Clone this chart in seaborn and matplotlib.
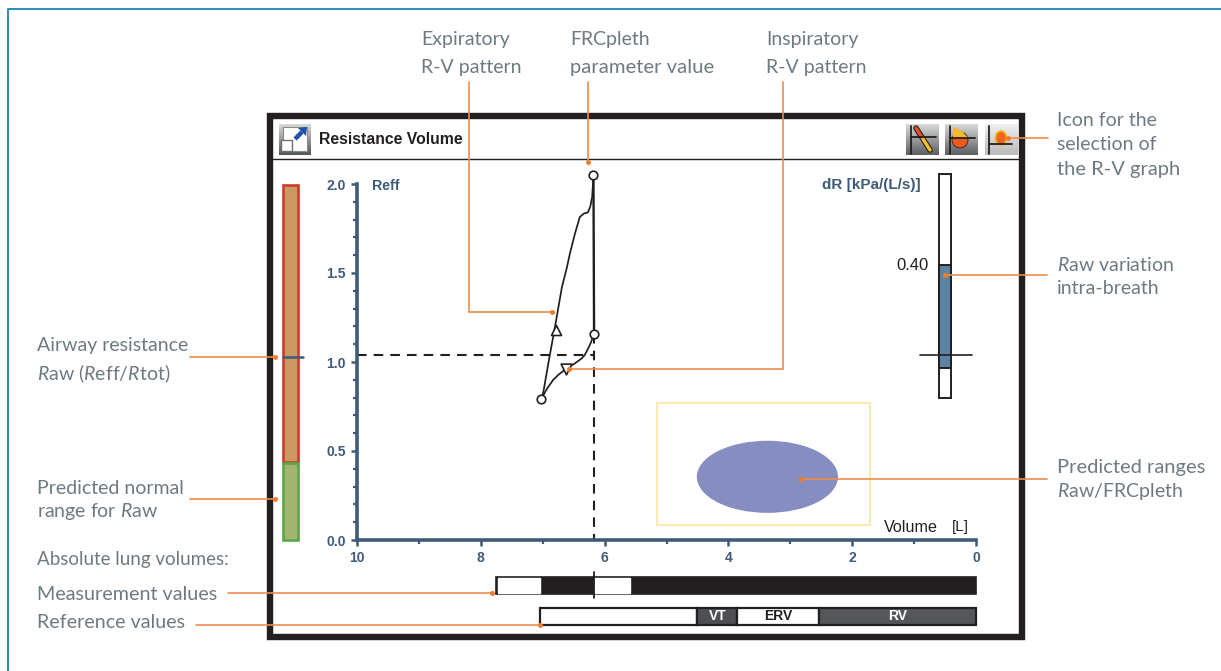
import numpy as np
import pandas as pd
import matplotlib
matplotlib.use('Agg')
import matplotlib.pyplot as plt
import seaborn as sns
from matplotlib.patches import Rectangle, Ellipse, Polygon

# Values (volume in L, Reff in kPa/(L/s))
exp_volume = [7.03, 6.99, 6.90, 6.80, 6.69, 6.61, 6.56, 6.48, 6.40, 6.33, 6.27, 6.23, 6.20, 6.18]
exp_reff = [0.79, 0.83, 1.01, 1.20, 1.42, 1.53, 1.61, 1.72, 1.815, 1.835, 1.84, 1.875, 1.93, 2.05]
ins_volume = [7.03, 6.93, 6.83, 6.74, 6.61, 6.49, 6.37, 6.32, 6.26, 6.22, 6.17]
ins_reff = [0.79, 0.85, 0.90, 0.93, 0.965, 0.99, 1.02, 1.04, 1.08, 1.11, 1.16]
loop_volume = [6.18, 6.17]
loop_reff = [2.05, 1.16]
frc_volume = 6.17
frc_reff = 1.04
start_marker = ([7.03, 6.18, 6.17], [0.79, 2.05, 1.16])
tri_up = ([6.79], [1.18])
tri_down = ([6.62], [0.96])

range_box = [5.15, 1.71, 0.085, 0.77]
range_ellipse = [3.37, 0.355, 2.28, 0.405]

raw_normal = [0.0, 0.43]
raw_high = [0.44, 1.995]
raw_measured = 1.03

dr_scale = [-0.19, 0.80]
dr_fill = [-0.057, 0.40]
dr_label = '0.40'

meas_bar = [7.75, 0.0]
meas_gaps = [(7.72, 7.04), (6.17, 5.59)]
ref_edges = [7.04, 4.50, 3.86, 2.54, 0.0]
ref_names = ['', 'VT', 'ERV', 'RV']
ref_colors = ['white', '#4d4f53', 'white', '#54565a']
ref_text = ['', 'white', '#231f20', 'white']

x_major = [10, 8, 6, 4, 2, 0]
x_minor = [9, 7, 5, 3, 1]
y_major = [0.0, 0.5, 1.0, 1.5, 2.0]
y_minor = [0.1, 0.2, 0.3, 0.4, 0.6, 0.7, 0.8, 0.9, 1.1, 1.2, 1.3, 1.4, 1.6, 1.7, 1.8, 1.9]

W, H = 1221, 671
NAVY = '#3f5b78'
ORANGE = '#ef8c46'
GREY = '#6e7a82'
BLACK = '#231f20'

sns.set_theme(style='white')
plt.rcParams['font.family'] = ['Lato', 'DejaVu Sans']
plt.rcParams['mathtext.fontset'] = 'custom'
plt.rcParams['mathtext.rm'] = 'Lato'
plt.rcParams['mathtext.it'] = 'Lato:italic'

fig = plt.figure(figsize=(W / 100, H / 100), dpi=100)


def px_axes(x0, x1, y0, y1, **kw):
    # axes placed by its pixel box, y counted from the top of the picture
    return fig.add_axes([x0 / W, 1 - y1 / H, (x1 - x0) / W, (y1 - y0) / H], **kw)


# page layer: frames, buttons
bg = px_axes(0, W, 0, H, zorder=0)
bg.set_xlim(0, W)
bg.set_ylim(H, 0)
bg.axis('off')
bg.plot([7.5, 7.5, W], [H, 9, 9], color='#2a8bbd', lw=1.4)
bg.add_patch(Rectangle((270, 116), 752, 521, fc='none', ec=BLACK, lw=4.6))
bg.plot([273, 1022], [158.5, 158.5], color=BLACK, lw=1.0)


def button(x0, x1, y0, y1, top, bottom):
    grad = np.linspace(0, 1, 32)[:, None]
    cmap = matplotlib.colors.LinearSegmentedColormap.from_list('b', [top, bottom])
    bg.imshow(grad, extent=(x0, x1, y1, y0), cmap=cmap, aspect='auto', zorder=2)


button(279, 311, 124, 155, '#d8d8d8', '#55585b')
button(906, 939, 124, 155, '#d8d8d8', '#5d6063')
button(945, 978, 124, 155, '#d8d8d8', '#5d6063')
button(985, 1018, 124, 155, '#efefef', '#b9bbbc')
# expand-window glyph on the first button
bg.add_patch(Rectangle((283, 127), 24, 24, fc='white', ec='#8a8a8a', lw=.8, zorder=3))
bg.add_patch(Rectangle((281, 140), 11, 11, fc='white', ec='#6f6f6f', lw=1, zorder=4))
bg.plot([295, 302], [139, 132], color='#1f4fa8', lw=3.2, zorder=4, solid_capstyle='butt')
bg.add_patch(Polygon([(298, 128), (307, 127), (306, 136)], fc='#1f4fa8', ec='none', zorder=4))
for vx, hy, hx in [(911, 137, 936), (950, 138, 975), (989, 144, 1012)]:
    bg.plot([vx, vx], [126, 154], color=BLACK, lw=1.3, zorder=5)
    bg.plot([vx, hx], [hy, hy], color=BLACK, lw=1.3, zorder=5)
bg.plot([916, 930], [128, 150], color=BLACK, lw=4.0, zorder=3, solid_capstyle='round')
bg.plot([916, 923], [128, 139], color='#e8501f', lw=2.4, zorder=4)
bg.plot([923, 930], [139, 150], color='#f6c21c', lw=2.4, zorder=4)
bg.add_patch(Ellipse((960, 140), 16, 16, fc='#ee5a1e', ec=BLACK, lw=.6, zorder=3))
bg.add_patch(Polygon([(953, 127), (962, 131), (968, 138), (953, 138)], fc='#f7b92b', ec='none', zorder=3))
bg.add_patch(Ellipse((1001, 138), 11, 14, fc='#f0641e', ec='#f4b71f', lw=1.2, zorder=3))
bg.set_xlim(0, W)
bg.set_ylim(H, 0)

# main R-V graph
ax = px_axes(357, 976, 184, 540, zorder=2)
ax.patch.set_alpha(0)
ax.add_patch(Rectangle((range_box[0], range_box[2]), range_box[1] - range_box[0],
                       range_box[3] - range_box[2], fc='none', ec='#fde8b0', lw=1.5))
ax.add_patch(Ellipse(range_ellipse[:2], range_ellipse[2], range_ellipse[3], fc='#858dc1', ec='none'))

for vol, reff in [(exp_volume, exp_reff), (ins_volume, ins_reff), (loop_volume, loop_reff)]:
    df = pd.DataFrame({'volume': vol, 'reff': reff})
    sns.lineplot(data=df, x='volume', y='reff', sort=False, estimator=None, ax=ax,
                 color=BLACK, lw=1.25 if vol is not loop_volume else 1.7)
for ln in ax.lines:
    ln.set_clip_on(False)

ax.plot([10, frc_volume], [frc_reff, frc_reff], color=BLACK, lw=1.5, ls=(0, (4.6, 3.4)))
ax.plot([frc_volume, frc_volume], [loop_reff[1], 0], color=BLACK, lw=1.5, ls=(0, (4.6, 3.4)))

sns.scatterplot(x=start_marker[0], y=start_marker[1], ax=ax, s=38, color='white', edgecolor=BLACK,
                linewidth=1.2, clip_on=False, zorder=6)
sns.scatterplot(x=tri_up[0], y=tri_up[1], ax=ax, s=52, marker='^', color='white', edgecolor=BLACK,
                linewidth=1.2, zorder=6)
sns.scatterplot(x=tri_down[0], y=tri_down[1], ax=ax, s=60, marker='v', color='white',
                edgecolor=BLACK, linewidth=1.2, zorder=6)

ax.set_xlim(10, 0)
ax.set_ylim(0, 2)
ax.set_xlabel('')
ax.set_ylabel('')
sns.despine(ax=ax)
for side in ['left', 'bottom']:
    ax.spines[side].set_color(NAVY)
    ax.spines[side].set_linewidth(2.6)
ax.set_xticks(x_major, [str(v) for v in x_major])
ax.set_xticks(x_minor, minor=True)
ax.set_yticks(y_major, [f'{v:.1f}' for v in y_major])
ax.set_yticks(y_minor, minor=True)
ax.tick_params(axis='both', which='major', length=4, width=1.8, color=NAVY, labelcolor=NAVY, pad=4,
               bottom=True, left=True, labelsize=10)
ax.tick_params(axis='both', which='minor', length=3, width=1.6, color=NAVY, bottom=True, left=True)
for lab in ax.get_xticklabels() + ax.get_yticklabels():
    lab.set_family('Liberation Sans')
    lab.set_weight('bold')

# Raw bars left of the graph
ax_raw = px_axes(283, 298, 184, 540, zorder=2)
ax_raw.patch.set_alpha(0)
ax_raw.bar([0], [raw_high[1] - raw_high[0]], bottom=raw_high[0], width=1, fc='#cb9962', ec='#cf3a2d', lw=1.9)
ax_raw.bar([0], [raw_normal[1] - raw_normal[0]], bottom=raw_normal[0], width=1, fc='#a3b56f', ec='#5aa845', lw=1.9)
ax_raw.set_xlim(-.5, .5)
ax_raw.set_ylim(0, 2)
ax_raw.axis('off')
ax_raw.plot([-.5, .83], [raw_measured, raw_measured], color=NAVY, lw=1.8, clip_on=False, zorder=5)
for p in ax_raw.patches:
    p.set_clip_on(False)

# dR scale at the right
ax_dr = px_axes(939.5, 951, 174, 398, zorder=2)
ax_dr.patch.set_alpha(0)
ax_dr.bar([0], [dr_scale[1] - dr_scale[0]], bottom=dr_scale[0], width=1, fc='white', ec=BLACK, lw=1.4, clip_on=False)
ax_dr.bar([0], [dr_fill[1] - dr_fill[0]], bottom=dr_fill[0], width=1, fc='#5b83a4', ec=BLACK, lw=1.4, clip_on=False)
ax_dr.plot([-2.2, 2.33], [0, 0], color=BLACK, lw=1.2, clip_on=False, zorder=5)
ax_dr.set_xlim(-.5, .5)
ax_dr.set_ylim(dr_scale)
ax_dr.axis('off')
ax_dr.text(-1.45, dr_fill[1] - 0.003, dr_label, ha='right', va='center', color=BLACK, fontsize=12,
           family='Liberation Sans')

# absolute lung volumes, same x scale as the graph
ax_vol = px_axes(357, 976, 570, 632, zorder=2)
ax_vol.patch.set_alpha(0)
ax_vol.barh([1.02], [meas_bar[0] - meas_bar[1]], left=meas_bar[1], height=0.28, color=BLACK,
            edgecolor=BLACK, lw=1.2, clip_on=False)
for a, b in meas_gaps:
    ax_vol.barh([1.02], [a - b], left=b, height=0.23, color='white', clip_on=False, zorder=3)
for i, name in enumerate(ref_names):
    ax_vol.barh([0.52], [ref_edges[i] - ref_edges[i + 1]], left=ref_edges[i + 1], height=0.27,
                color=ref_colors[i], edgecolor=BLACK, lw=1.6, clip_on=False)
    if name:
        ax_vol.text((ref_edges[i] + ref_edges[i + 1]) / 2, 0.52, name, ha='center', va='center',
                    color=ref_text[i], fontsize=10, weight='bold', family='Liberation Sans')
ax_vol.plot([frc_volume, frc_volume], [0.82, 1.24], color=BLACK, lw=1.3, zorder=4)
ax_vol.set_xlim(10, 0)
ax_vol.set_ylim(0.27, 1.27)
ax_vol.axis('off')

# text and leaders on top
top = px_axes(0, W, 0, H, zorder=5)
top.set_xlim(0, W)
top.set_ylim(H, 0)
top.axis('off')
top.patch.set_alpha(0)


def leader(xs, ys):
    top.plot(xs, ys, color=ORANGE, lw=1.2, solid_joinstyle='miter')
    top.plot(xs[-1], ys[-1], 'o', color='#f07f2c', ms=3.6, mew=0)


leader([469, 469, 552], [82, 312, 312])
leader([588, 588], [82, 162])
leader([783, 783, 569], [82, 369, 369])
leader([1048, 1008], [138, 138])
leader([1047, 945], [275, 275])
leader([1047, 801], [479, 479])
leader([190, 275], [357, 357])
leader([190, 275], [499, 499])
leader([228, 492], [593, 593])
leader([196, 540], [625, 625])

notes = [
    (421, 39, 'Expiratory', 14), (421, 68, 'R-V pattern', 14),
    (570, 39, 'FRCpleth', 14), (570, 68, 'parameter value', 14.6),
    (766, 39, 'Inspiratory', 14), (766, 68, 'R-V pattern', 14),
    (1057, 121, 'Icon for the', 14), (1057, 145, 'selection of', 14), (1057, 169, 'the R-V graph', 14.5),
    (1057, 265, r'$\mathit{R}$aw variation', 14), (1057, 289, 'intra-breath', 14),
    (1057, 467, 'Predicted ranges', 14.5), (1057, 491, r'$\mathit{R}$aw/FRCpleth', 14),
    (37, 345, 'Airway resistance', 14), (37, 374, r'$\mathit{R}$aw ($\mathit{R}$eff/$\mathit{R}$tot)', 14),
    (37, 488, 'Predicted normal', 14), (37, 512, r'range for $\mathit{R}$aw', 14),
    (37, 560, 'Absolute lung volumes:', 13.5), (37, 595, 'Measurement values', 14.2), (37, 623, 'Reference values', 14.1),
]
for x, y, s, size in notes:
    top.text(x, y, s, ha='left', va='center', color=GREY, fontsize=size)

top.text(319, 140, 'Resistance Volume', ha='left', va='center', color=BLACK, fontsize=11.3,
         weight='bold', family='Liberation Sans')
top.text(372, 186, 'Reff', ha='left', va='center', color=NAVY, fontsize=10.2, weight='bold', family='Liberation Sans')
top.text(921, 185, 'dR [kPa/(L/s)]', ha='right', va='center', color=NAVY, fontsize=11, weight='bold',
         family='Liberation Sans')
top.text(884, 527, 'Volume', ha='left', va='center', color=BLACK, fontsize=11.6, family='Liberation Sans')
top.text(952, 527, '[L]', ha='left', va='center', color=BLACK, fontsize=11, family='Liberation Sans')

fig.savefig('out.png', dpi=100)
